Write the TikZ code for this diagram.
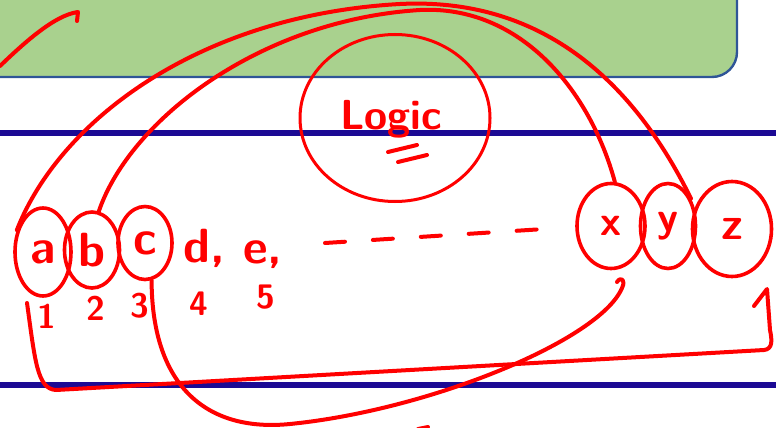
\documentclass[tikz,border=0pt]{standalone}
\usepackage{fontspec}
\usetikzlibrary{positioning,shapes.geometric,calc}
\definecolor{leaf}{HTML}{A9D18E}
\definecolor{leafedge}{HTML}{2F5597}
\definecolor{navy}{HTML}{1C0A94}
\definecolor{ink}{HTML}{FF0000}

\begin{document}
\begin{tikzpicture}[x=1pt, y=-1pt,
    pen/.style={ink, line width=4pt, line cap=round, line join=round},
    ring/.style={ellipse, draw=ink, line width=3.6pt, inner sep=0pt, ink, font=\sffamily\bfseries\fontsize{48}{48}\selectfont},
    digit/.style={ink, anchor=base, inner sep=0pt, font=\sffamily\bfseries\fontsize{34}{34}\selectfont}]
\useasboundingbox (0,0) rectangle (776,428);
\clip (0,0) rectangle (776,428);

% Slide background
\draw[fill=leaf, draw=leafedge, line width=2.4pt, rounded corners=25pt] (-40,-40) rectangle (737,77);
\draw[navy, line width=6pt] (0,133) -- (776,133);
\draw[navy, line width=6pt] (0,385) -- (776,385);

% Circled letters
\node[ring, minimum width=56pt, minimum height=88pt] (a) at (43,252) {a};
\node[ring, minimum width=55pt, minimum height=76pt] (b) at (92,250) {b};
\node[ring, minimum width=54pt, minimum height=73pt] (c) at (145,243) {c};
\node[ink, anchor=base, inner sep=0pt, font=\sffamily\bfseries\fontsize{48}{48}\selectfont] (d) at (204,262) {d,};
\node[ink, anchor=base, inner sep=0pt, font=\sffamily\bfseries\fontsize{48}{48}\selectfont] (e) at (263,263) {e,};
\node[ring, minimum width=68pt, minimum height=85pt, font=\sffamily\bfseries\fontsize{42}{42}\selectfont] (x) at (611,226) {x};
\node[ring, minimum width=55pt, minimum height=85pt, font=\sffamily\bfseries\fontsize{42}{42}\selectfont] (y) at (668,226) {y};
\node[ring, minimum width=79pt, minimum height=95pt, font=\sffamily\bfseries\fontsize{46}{46}\selectfont] (z) at (732,229) {z};

% Index numbers
\node[digit] (n1) at (47,328) {1};
\node[digit] (n2) at (96,320) {2};
\node[digit] (n3) at (140,317) {3};
\node[digit] (n4) at (199,315) {4};
\node[digit] (n5) at (266,308) {5};

% Dashes between e and x
\coordinate (dash-l) at (325,243);
\coordinate (dash-r) at (560,228);
\draw[pen, dash pattern=on 20pt off 28pt] (dash-l) -- (dash-r);

% Logic
\node[ellipse, draw=ink, line width=3pt, minimum width=190pt, minimum height=167pt] (logic ring) at (395,118) {};
\node[ink, anchor=base, inner sep=0pt, font=\sffamily\bfseries\fontsize{42}{42}\selectfont] (logic) at (391,129) {Logic};
\draw[pen] (388,152) -- (417,145);
\draw[pen] (398,162) -- (427,155);

% Arcs over the top
\draw[pen] (a.140) .. controls (60,120) and (200,15) .. (400,4)
    .. controls (560,-4) and (645,105) .. (y.50);
\draw[pen] (b.80) .. controls (130,120) and (260,20) .. (420,10)
    .. controls (520,5) and (590,90) .. (x.85);
\draw[pen] (0,66) .. controls (25,42) and (55,15) .. (78,12) -- (77,21);

% Arcs below
\coordinate (brk-l) at (27,303);
\coordinate (brk-r) at (767,289);
\draw[pen] (brk-l) .. controls (35,360) and (37,389) .. (56,390) -- (764,350)
    .. controls (773,349) and (772,340) .. (770,330) -- (brk-r) -- (754,306);
\draw[pen] (c.280) .. controls (152,390) and (210,432) .. (290,424)
    .. controls (430,410) and (600,340) .. (622,288)
    .. controls (626,280) and (621,276) .. (617,282);
\draw[pen] (418,429) -- (428,427);

\end{tikzpicture}
\end{document}
